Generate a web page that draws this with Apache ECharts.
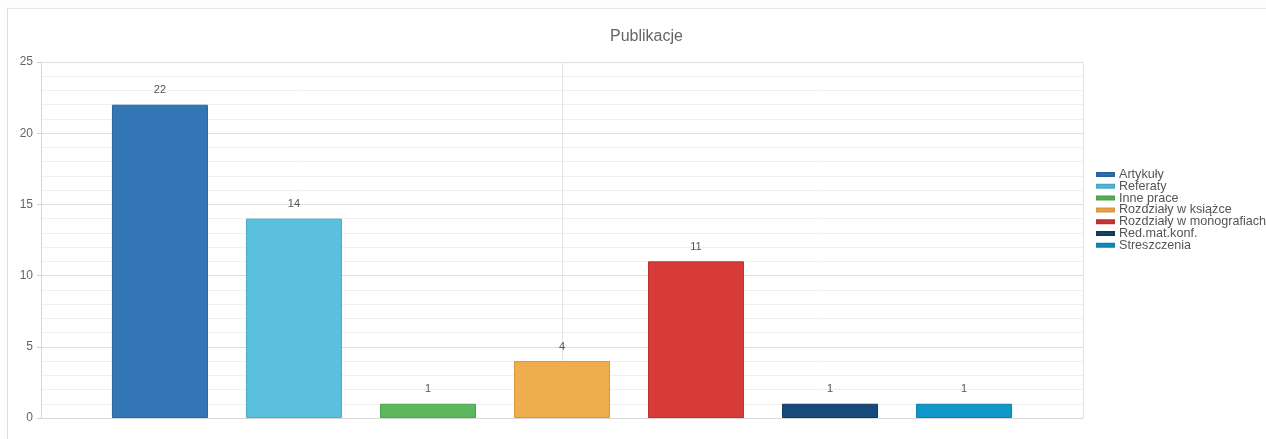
<!DOCTYPE html>
<html>
<head>
<meta charset="utf-8">
<script src="https://cdn.jsdelivr.net/npm/echarts@6/dist/echarts.min.js"></script>
<style>
  html, body { margin: 0; padding: 0; background: #fdfdfd; }
  #frame { position: absolute; left: 7px; top: 8px; width: 1259px; height: 431px;
           border-left: 1px solid #dedede; border-top: 1px solid #e6e6e6; box-sizing: border-box; background: #fff; }
  #c { position: absolute; left: 0; top: 0; width: 1266px; height: 439px; }
</style>
</head>
<body>
<div id="frame"></div>
<div id="c"></div>
<script>
const titleText = 'Publikacje';
const categories = ['Publikacje'];
const seriesNames = ['Artykuły', 'Referaty', 'Inne prace', 'Rozdziały w książce', 'Rozdziały w monografiach', 'Red.mat.konf.', 'Streszczenia'];
const seriesValues = [22, 14, 1, 4, 11, 1, 1];
const seriesColors = ['#3276b5', '#5bc0de', '#5cb85c', '#f0ad4e', '#d73b37', '#154a7a', '#0e97c9'];
const borderColors = ['#2a649a', '#4aaac6', '#4ea24e', '#d9983f', '#bb302c', '#0f3a60', '#0b82ad'];
const yTicks = { min: 0, max: 25, interval: 5 };

const chart = echarts.init(document.getElementById('c'), null, { renderer: 'canvas' });
const series = seriesNames.map((name, i) => ({
  name: name,
  type: 'bar',
  xAxisIndex: 0,
  data: [seriesValues[i]],
  barWidth: 96,
  barGap: '39.6%',
  itemStyle: { color: seriesColors[i], borderColor: borderColors[i], borderWidth: 1 },
  label: { show: true, position: 'top', distance: 9, color: '#555', fontSize: 11, fontFamily: 'Liberation Sans, Arial, sans-serif' },
  emphasis: { disabled: true }
}));

chart.setOption({
  animation: false,
  textStyle: { fontFamily: 'Liberation Sans, Arial, sans-serif' },
  title: {
    text: titleText,
    left: 605,
    top: 24,
    textStyle: { fontSize: 16, fontWeight: 'normal', color: '#666' }
  },
  legend: {
    orient: 'vertical',
    left: 1091,
    top: 163,
    icon: 'rect',
    itemWidth: 17,
    itemHeight: 3,
    itemGap: -1.2,
    textStyle: { fontSize: 12.6, color: '#555', lineHeight: 11 },
    data: seriesNames
  },
  grid: { left: 41, right: 183, top: 62, bottom: 21, containLabel: false,
          show: false },
  xAxis: [{
    type: 'category',
    data: categories,
    boundaryGap: true,
    axisLabel: { show: false },
    axisTick: { show: false },
    axisLine: { show: true, lineStyle: { color: '#d8d8d8' } },
    splitLine: { show: false }
  }, {
    type: 'value',
    min: 0, max: 2, interval: 1,
    position: 'bottom',
    axisLabel: { show: false },
    axisTick: { show: false },
    axisLine: { show: false },
    splitLine: { show: true, lineStyle: { color: '#e4e4e4' } }
  }],
  yAxis: {
    type: 'value',
    min: yTicks.min, max: yTicks.max, interval: yTicks.interval,
    axisLine: { show: true, lineStyle: { color: '#d8d8d8' } },
    axisTick: { show: true, length: 4, lineStyle: { color: '#d0d0d0' } },
    axisLabel: { color: '#666', fontSize: 12, margin: 8 },
    splitLine: { show: true, lineStyle: { color: '#dedede' } },
    minorTick: { show: false, splitNumber: 5 },
    minorSplitLine: { show: true, lineStyle: { color: '#f0f0f0' } }
  },
  series: series
});
</script>
</body>
</html>
